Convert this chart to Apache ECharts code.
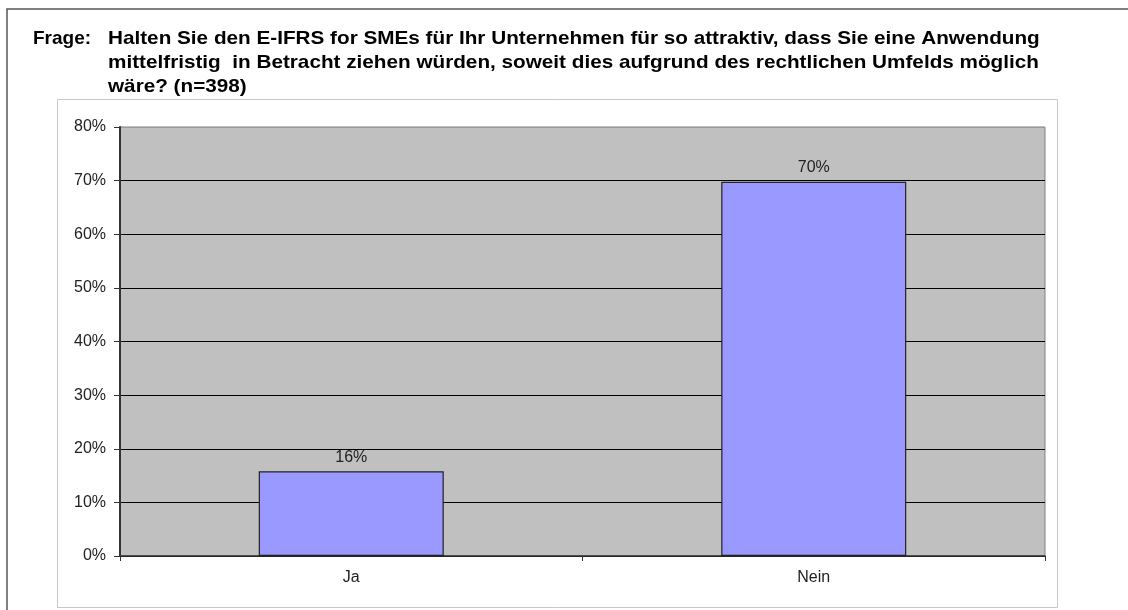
<!DOCTYPE html>
<html><head><meta charset="utf-8">
<script src="https://cdn.jsdelivr.net/npm/echarts@6/dist/echarts.min.js"></script>
<style>html,body{margin:0;padding:0;background:#fff}#c{width:1128px;height:610px}</style>
</head><body><div id="c"></div>
<script>
const categories = ['Ja', 'Nein'];
const values = [15.8, 69.8];
const yTicks = [0, 10, 20, 30, 40, 50, 60, 70, 80];
const titleLabel = 'Frage:';
const titleLines = [
  'Halten Sie den E-IFRS for SMEs für Ihr Unternehmen für so attraktiv, dass Sie eine Anwendung',
  'mittelfristig  in Betracht ziehen würden, soweit dies aufgrund des rechtlichen Umfelds möglich',
  'wäre? (n=398)'
];

const chart = echarts.init(document.getElementById('c'), null, {renderer: 'canvas'});
const font = 'Arial, "Liberation Sans", sans-serif';
const titleFont = 'bold 19px ' + font;
const titleGraphics = [
  {type: 'text', x: 33, y: 38.5, silent: true,
   style: {text: titleLabel, font: titleFont, fill: '#000', verticalAlign: 'middle', align: 'left'}}
].concat(titleLines.map((t, i) => ({
  type: 'text', x: 108, y: 38.5 + i * 24, scaleX: 1.09, silent: true,
  style: {text: t, font: titleFont, fill: '#000', verticalAlign: 'middle', align: 'left'}
})));

chart.setOption({
  backgroundColor: '#fff',
  animation: false,
  graphic: [
    {type: 'rect', shape: {x: 7, y: 9, width: 1130, height: 620}, style: {fill: 'none', stroke: '#555', lineWidth: 1.5}, silent: true, z: -10},
    {type: 'rect', shape: {x: 57.5, y: 99.5, width: 1000, height: 508}, style: {fill: 'none', stroke: '#c8c8c8', lineWidth: 1}, silent: true, z: -10}
  ].concat(titleGraphics),
  grid: {left: 120, top: 127, width: 925, height: 429, show: true, backgroundColor: '#c0c0c0', borderColor: '#808080', borderWidth: 1},
  xAxis: {
    type: 'category', data: categories,
    axisLine: {lineStyle: {color: '#333', width: 1.5}},
    axisTick: {show: true, length: 5, lineStyle: {color: '#333'}},
    axisLabel: {color: '#222', fontSize: 16, fontFamily: font, margin: 14}
  },
  yAxis: {
    type: 'value', min: 0, max: 80, interval: 10,
    axisLine: {show: true, lineStyle: {color: '#333', width: 2}},
    axisTick: {show: true, length: 6, inside: false, lineStyle: {color: '#333'}},
    axisLabel: {color: '#222', fontSize: 16, fontFamily: font, margin: 14, formatter: v => yTicks.includes(v) ? v + '%' : ''},
    splitLine: {show: true, lineStyle: {color: ['#000', '#000', '#000', '#000', '#000', '#000', '#000', '#000', '#999'], width: 1.2}}
  },
  series: [{
    type: 'bar', data: values, barWidth: '40%',
    itemStyle: {color: '#9999ff', borderColor: '#222', borderWidth: 1.2},
    label: {show: true, position: 'top', distance: 6, color: '#222', fontSize: 16, fontFamily: font, formatter: p => Math.round(p.value) + '%'}
  }]
});
</script></body></html>
